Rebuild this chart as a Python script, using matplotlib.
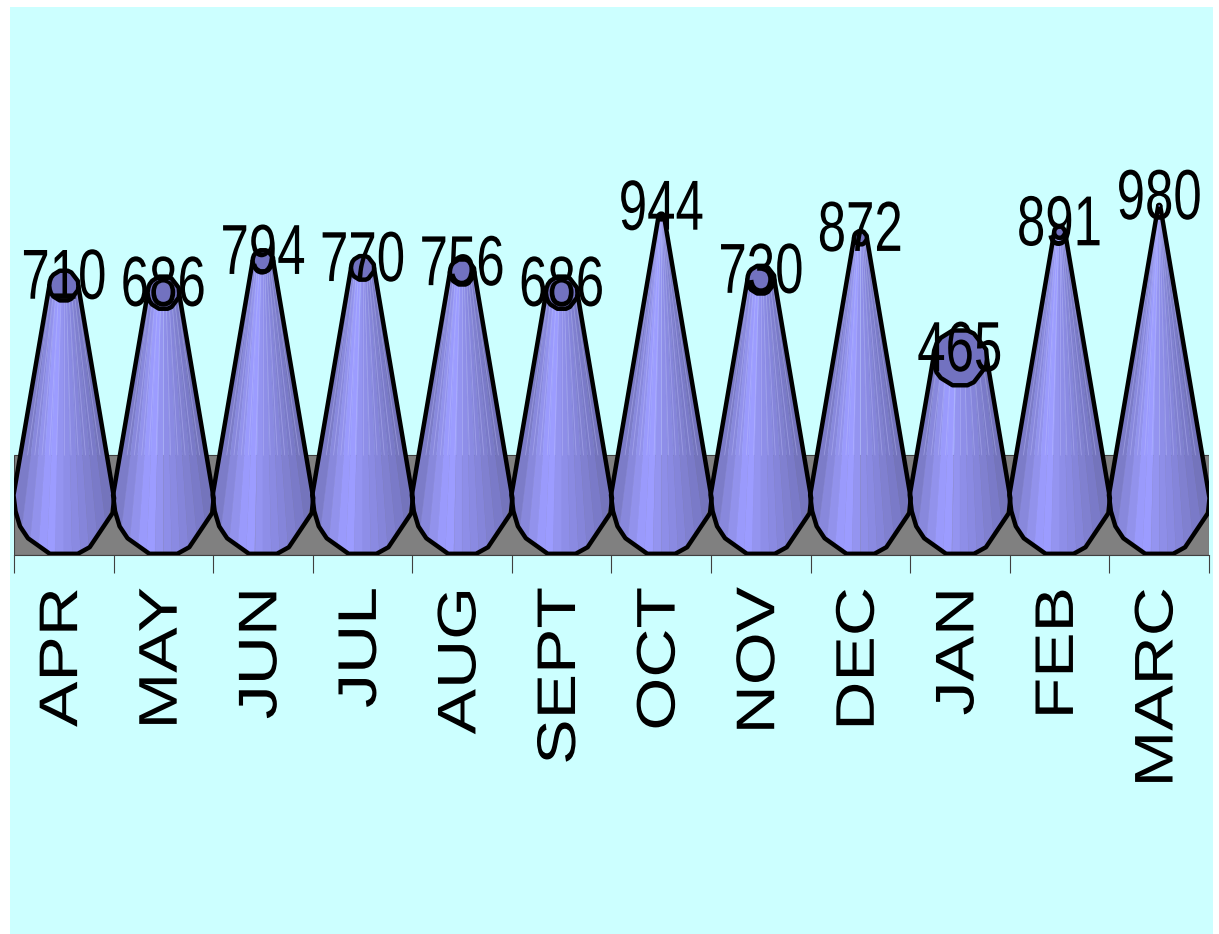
import numpy as np
import matplotlib
matplotlib.use("Agg")
import matplotlib.pyplot as plt
from matplotlib.collections import PolyCollection
from matplotlib.patches import Polygon, Rectangle
from matplotlib.patheffects import AbstractPathEffect
from matplotlib.transforms import Affine2D, ScaledTranslation


MONTHS = ["APR", "MAY", "JUN", "JUL", "AUG", "SEPT", "OCT", "NOV", "DEC", "JAN", "FEB", "MARC"]
VALUES = [710, 686, 794, 770, 756, 686, 944, 730, 872, 465, 891, 980]

WIDTH, HEIGHT = 1219, 934
DPI = 100
AXIS_MAX = 1000          # cone apex sits at this value
PX_PER_VALUE = 0.295
BASE_RADIUS = 0.5        # in category units
BASE_DEPTH = 203         # lower half of the base ellipse, in value units
CAP_DEPTH = 177          # half height of a full size cap, in value units
FLOOR_TOP = 135          # back edge of the grey floor
FLOOR_BOTTOM = -203

# Coarse outline of the lower half of the base, left to right
BASE_X = np.array([-1.01, -0.97, -0.88, -0.72, -0.28, 0.28, 0.52, 0.98, 1.01])
BASE_Y = np.array([0.0, -0.27, -0.52, -0.72, -0.98, -0.98, -0.87, -0.30, -0.05])

# Cone shading from left to right
FACET_COLORS = [
    "#7c7cc8", "#8888dc", "#9292ec", "#9a9afc", "#9c9cff", "#9494f0",
    "#8e8ee8", "#8a8ae2", "#8585da", "#8080d0", "#7a7ac8", "#7474bc",
]


class Squeeze(AbstractPathEffect):
    """Scale text glyphs about their centre."""

    def __init__(self, sx=1.0, sy=1.0):
        super().__init__()
        self.sx = sx
        self.sy = sy

    def draw_path(self, renderer, gc, tpath, affine, rgbFace=None):
        box = tpath.get_extents()
        cx, cy = (box.x0 + box.x1) / 2, (box.y0 + box.y1) / 2
        squeeze = Affine2D().translate(-cx, -cy).scale(self.sx, self.sy).translate(cx, cy)
        renderer.draw_path(gc, tpath, squeeze + affine, rgbFace)


def draw_cone(ax, x, value):
    frac = 1 - value / AXIS_MAX
    top_r = BASE_RADIUS * frac

    # Body outline: down the left side, along the base, up the right side
    base_xs = x + BASE_X * BASE_RADIUS
    base_ys = BASE_Y * BASE_DEPTH
    body = np.vstack([
        [[x - top_r, value]],
        np.column_stack([base_xs, base_ys]),
        [[x + top_r, value]],
    ])

    # Shaded vertical facets, clipped to the body
    edges = np.linspace(-1.01, 1.01, len(FACET_COLORS) + 1)
    quads = []
    seams = []
    for left, right in zip(edges[:-1], edges[1:]):
        y_left = np.interp(left, BASE_X, BASE_Y) * BASE_DEPTH
        y_right = np.interp(right, BASE_X, BASE_Y) * BASE_DEPTH
        quads.append([
            (x + left * top_r, value),
            (x + right * top_r, value),
            (x + right * BASE_RADIUS, y_right),
            (x + left * BASE_RADIUS, y_left),
        ])
        seams.append([
            (x + right * top_r, value),
            (x + right * (top_r + (BASE_RADIUS - top_r) * (value - FLOOR_TOP) / value), FLOOR_TOP),
        ])

    facets = PolyCollection(quads, facecolors=FACET_COLORS, edgecolors=FACET_COLORS,
                            linewidths=0.3, zorder=3)
    ax.add_collection(facets)
    lights = PolyCollection(seams, closed=False, facecolors="none", edgecolors="#c4c4ff",
                            linewidths=0.6, alpha=0.4, zorder=3.1)
    ax.add_collection(lights)

    outline = Polygon(body, closed=True, facecolor="none", edgecolor="black",
                      linewidth=3.2, joinstyle="round", zorder=4)
    ax.add_patch(outline)
    facets.set_clip_path(outline)
    lights.set_clip_path(outline)

    # Flat top of the truncated cone
    cap_x = np.r_[BASE_X, BASE_X[-2:0:-1]]
    cap_y = np.r_[BASE_Y, -BASE_Y[-2:0:-1]]
    cap = np.column_stack([x + cap_x * top_r, value + cap_y * CAP_DEPTH * frac])
    ax.add_patch(Polygon(cap, closed=True, facecolor="#7272c0", edgecolor="black",
                         linewidth=3.2, joinstyle="round", zorder=5))


fig = plt.figure(figsize=(WIDTH / DPI, HEIGHT / DPI), dpi=DPI, facecolor="white")
fig.add_artist(Rectangle((10 / WIDTH, 0), 1203 / WIDTH, 927 / HEIGHT, zorder=-1,
                         transform=fig.transFigure, facecolor="#ccffff", edgecolor="none"))

# Axes runs from the floor front edge up past the tallest cone
top_px = 150
bottom_px = 555
ax = fig.add_axes([14 / WIDTH, 1 - bottom_px / HEIGHT, 1195 / WIDTH, (bottom_px - top_px) / HEIGHT])
ax.patch.set_visible(False)
ax.set_xlim(-0.5, len(MONTHS) - 0.5)
ax.set_ylim(FLOOR_BOTTOM, (495 - top_px) / PX_PER_VALUE)
for side in ("top", "right", "left"):
    ax.spines[side].set_visible(False)
ax.spines["bottom"].set_color("#404040")
ax.spines["bottom"].set_linewidth(0.8)

ax.add_patch(Rectangle((-0.5, FLOOR_BOTTOM), len(MONTHS), FLOOR_TOP - FLOOR_BOTTOM,
                       facecolor="#808080", edgecolor="#404040", linewidth=0.8, zorder=1))

x_pos = np.arange(len(MONTHS))
for x, value in zip(x_pos, VALUES):
    draw_cone(ax, x, value)
    ax.annotate(str(value), (x, value), xytext=(0, 3.5), textcoords="offset points",
                ha="center", va="center", fontsize=51, family="Liberation Sans",
                color="black", zorder=6, path_effects=[Squeeze(sx=0.72)])

ax.set_yticks([])
ax.set_xticks(np.arange(len(MONTHS) + 1) - 0.5)
ax.set_xticklabels([])
ax.tick_params(axis="x", length=13, width=0.8, color="#404040")

# Month names sit between the tick marks
label_shift = ScaledTranslation(0, -32 / DPI, fig.dpi_scale_trans)
label_y = ax.get_xaxis_transform()
for x, month in zip(x_pos, MONTHS):
    ax.text(x, 0, month, transform=label_y + label_shift,
            rotation=90, ha="center", va="top", fontsize=49, family="Liberation Sans",
            color="black", clip_on=False, path_effects=[Squeeze(sy=0.8)])

fig.savefig("out.png", dpi=DPI, facecolor="white")
